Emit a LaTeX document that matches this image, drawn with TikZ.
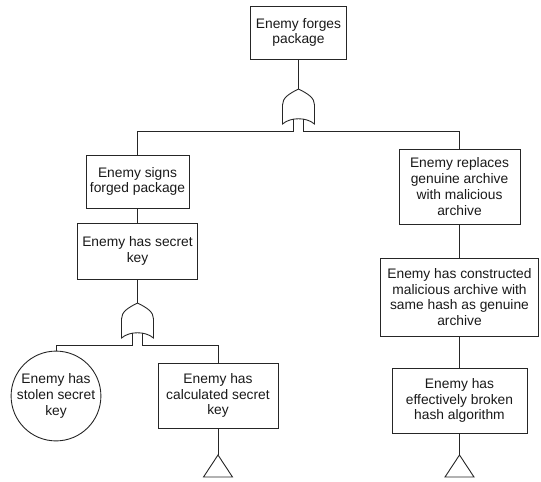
\documentclass[tikz,border=0pt]{standalone}
\usepackage{fontspec}
\setmainfont{Liberation Sans}
\begin{document}
\begin{tikzpicture}[x=1pt,y=-1pt,line width=0.9pt,color=black!85,
  txt/.style={font=\fontsize{13.8}{15.8}\selectfont,align=center,text=black!90},
  box/.style={txt,draw,rectangle,inner sep=0pt},
  event/.style={txt,draw,circle,inner sep=0pt,minimum size=82pt},
  orgate/.pic={
    \draw (0,0) .. controls (-10,5) and (-16,9) .. (-16,16) -- (-16,35)
      .. controls (-8,28) and (8,28) .. (16,35) -- (16,16)
      .. controls (16,9) and (10,5) .. (0,0) -- cycle;
    \coordinate (-out) at (0,0);
    \draw (-5,30.3) -- (-5,42) coordinate (-inL);
    \draw (4.5,30.3) -- (4.5,42) coordinate (-inR);
  },
  undev/.pic={
    \coordinate (-top) at (0,0);
    \draw (0,0) -- (-14.5,22) -- (14.5,22) -- cycle;
  }]
\useasboundingbox (0,0) rectangle (541,482);

% nodes
\node[box,minimum width=96pt,minimum height=53pt] (top) at (298.5,32.5) {Enemy forges\\package};
\pic (g1) at (298.5,89) {orgate};

\node[box,minimum width=103pt,minimum height=53pt] (signs) at (137.5,181.5) {Enemy signs\\forged package};
\node[box,minimum width=120pt,minimum height=56pt] (secret) at (137.5,251) {Enemy has secret\\key};
\pic (g2) at (137.5,303) {orgate};

\node[event] (stolen) at (56,396) {Enemy has\\stolen secret\\key};
\node[box,minimum width=120pt,minimum height=65pt] (calc) at (218,395.5) {Enemy has\\calculated secret\\key};
\pic (t1) at (218,455) {undev};

\node[box,minimum width=121pt,minimum height=75pt] (repl) at (459.5,186.5) {Enemy replaces\\genuine archive\\with malicious\\archive};
\node[box,minimum width=158pt,minimum height=78pt] (constr) at (459.5,297) {Enemy has constructed\\malicious archive with\\same hash as genuine\\archive};
\node[box,minimum width=135pt,minimum height=65pt] (broken) at (459.5,400.5) {Enemy has\\effectively broken\\hash algorithm};
\pic (t2) at (459.5,455) {undev};

% connectors
\draw (top) -- (g1-out);
\draw (g1-inL) -| (signs.north);
\draw (g1-inR) -| (repl.north);
\draw (signs) -- (secret);
\draw (secret) -- (g2-out);
\draw (g2-inL) -| (stolen.north);
\draw (g2-inR) -| (calc.north);
\draw (calc) -- (t1-top);
\draw (repl) -- (constr);
\draw (constr) -- (broken);
\draw (broken) -- (t2-top);
\end{tikzpicture}
\end{document}
